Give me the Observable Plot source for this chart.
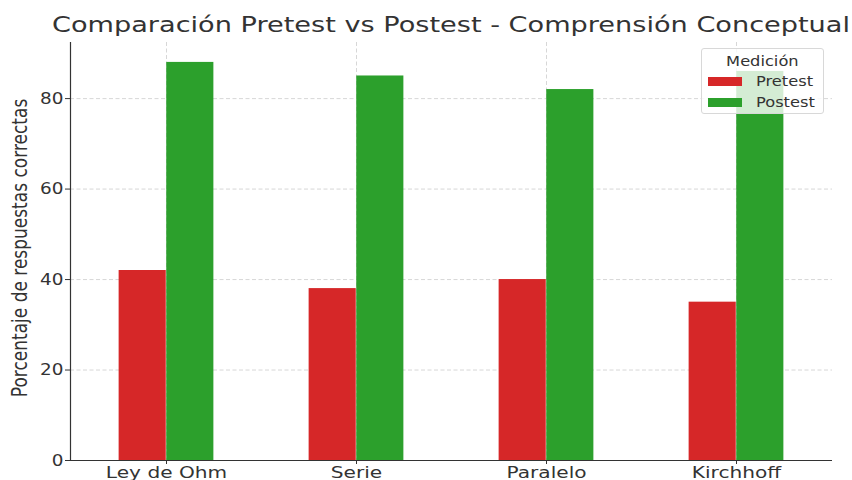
<!DOCTYPE html>
<html><head><meta charset="utf-8">
<script src="https://cdn.jsdelivr.net/npm/d3@7"></script>
<script src="https://cdn.jsdelivr.net/npm/@observablehq/plot@0.6"></script>
<style>
body{margin:0;background:#fff;width:852px;height:480px;overflow:hidden;position:relative;font-family:"DejaVu Sans",sans-serif;color:#333;}
#title{position:absolute;top:15px;font-size:21px;line-height:21px;color:#333;white-space:nowrap;transform-origin:left center;}
#chart{position:absolute;left:0;top:40px;}
#ylabel{position:absolute;left:20px;top:248px;transform:translate(-50%,-50%) rotate(-90deg) scale(1,1.2);white-space:nowrap;font-size:17px;color:#333;}
#legend{position:absolute;left:701px;top:48px;width:123px;height:66px;box-sizing:border-box;border:1px solid #d8d8d8;border-radius:3px;background:rgba(255,255,255,0.8);font-size:14.5px;color:#333;}
#legend .t{position:absolute;left:0;width:100%;top:3px;text-align:center;line-height:18px;}
#legend .t span{display:inline-block;transform:scaleX(1.12);}
#legend .it{position:absolute;left:0;height:20px;display:flex;align-items:center;}
#legend .sw{width:34px;height:9px;margin-left:6px;margin-right:14px;}
#legend .lb{display:inline-block;transform:scaleX(1.12);transform-origin:left center;}
</style></head>
<body>
<div id="title">Comparación Pretest vs Postest - Comprensión Conceptual</div>
<div id="chart"></div>
<div id="ylabel">Porcentaje de respuestas correctas</div>
<div id="legend"></div>
<script>
const categories = ["Ley de Ohm", "Serie", "Paralelo", "Kirchhoff"];
const pretest = [42, 38, 40, 35];
const postest = [88, 85, 82, 86];
const series = ["Pretest", "Postest"];
const colors = ["#d62728", "#2ca02c"];
const yTicks = [0, 20, 40, 60, 80];
const legendTitle = "Medición";

const W = 852, H = 440, ML = 70, MR = 20, MT = 2, MB = 20;
const step = (W - ML - MR) / categories.length;
const q = step / 4;

const preRows = categories.map((c, i) => ({categoria: c, medicion: series[0], valor: pretest[i]}));
const postRows = categories.map((c, i) => ({categoria: c, medicion: series[1], valor: postest[i]}));

const gridStyle = {stroke: "#b8b8b8", strokeOpacity: 0.7, strokeWidth: 0.8, strokeDasharray: "4,2.5"};

const plot = Plot.plot({
  width: W, height: H,
  marginLeft: ML, marginRight: MR, marginTop: MT, marginBottom: MB,
  style: {fontFamily: "'DejaVu Sans', sans-serif", fontSize: "16px", color: "#333", background: "transparent"},
  x: {type: "band", domain: categories, padding: 0},
  y: {domain: [0, 92.4]},
  marks: [
    Plot.gridY(yTicks.slice(1), gridStyle),
    Plot.gridX(categories, gridStyle),
    Plot.barY(preRows, {x: "categoria", y: "valor", fill: colors[0], insetLeft: q, insetRight: 2 * q}),
    Plot.barY(postRows, {x: "categoria", y: "valor", fill: colors[1], insetLeft: 2 * q, insetRight: q}),
    Plot.axisY({ticks: yTicks, tickSize: 5, tickPadding: 2, label: null, fontSize: 16, stroke: "#333"}),
    Plot.axisX({tickSize: 4, tickPadding: 2, label: null, fontSize: 15.5, stroke: "#333"}),
    Plot.frame({anchor: "left", stroke: "#333", strokeWidth: 1.2}),
    Plot.ruleY([0], {stroke: "#333", strokeWidth: 1.2})
  ]
});
document.getElementById("chart").append(plot);

// horizontal stretch of tick labels to match the reference's wide lettering
plot.querySelectorAll('g[aria-label="y-axis tick label"] text').forEach(t => {
  t.setAttribute("transform", (t.getAttribute("transform") || "") + " scale(1.15,1)");
});
plot.querySelectorAll('g[aria-label="x-axis tick label"] text').forEach(t => {
  t.setAttribute("transform", (t.getAttribute("transform") || "") + " scale(1.3,1)");
});

// title fitted to span
const title = document.getElementById("title");
const tw = title.getBoundingClientRect().width;
const targetW = 798, centerX = 451;
const s = targetW / tw;
title.style.left = (centerX - targetW / 2) + "px";
title.style.transform = `scaleX(${s})`;

const lg = document.getElementById("legend");
const t = document.createElement("div"); t.className = "t";
const ts = document.createElement("span"); ts.textContent = legendTitle; t.append(ts); lg.append(t);
series.forEach((sr, i) => {
  const it = document.createElement("div"); it.className = "it";
  it.style.top = (22 + i * 21) + "px";
  const sw = document.createElement("span"); sw.className = "sw"; sw.style.background = colors[i];
  const lb = document.createElement("span"); lb.className = "lb"; lb.textContent = sr;
  it.append(sw, lb); lg.append(it);
});
</script>
</body></html>
